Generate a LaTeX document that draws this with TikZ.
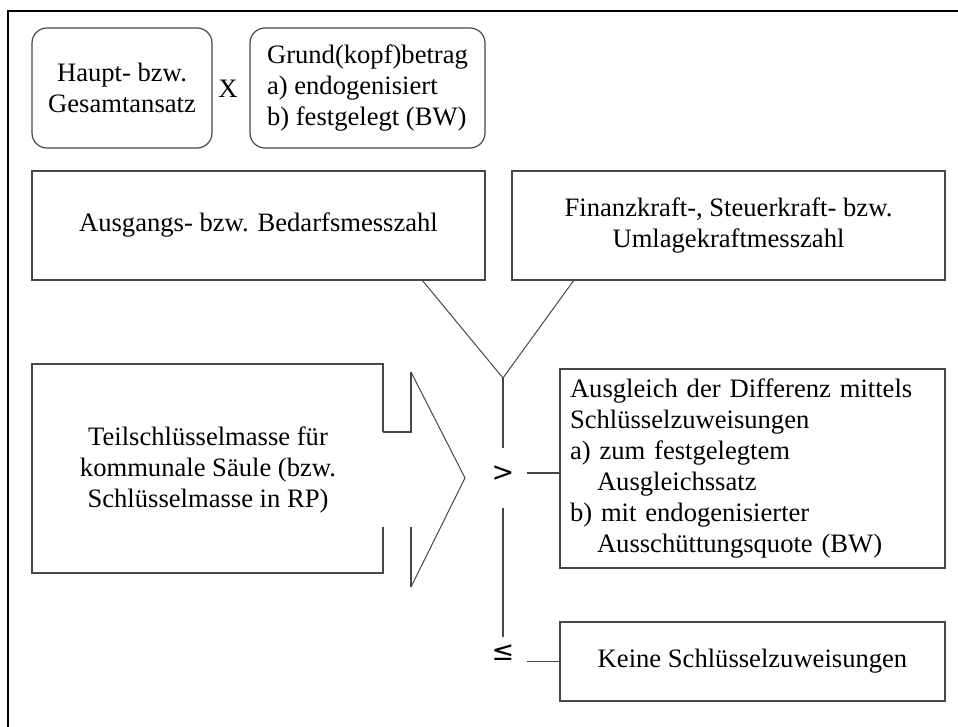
\documentclass[tikz,border=0pt]{standalone}
\usepackage{fontspec}
\setmainfont{Liberation Serif}
\newfontfamily\symfont{DejaVu Sans}
\begin{document}
\begin{tikzpicture}[x=1pt,y=-1pt,
  font=\fontsize{26.6}{31}\selectfont,
  ln/.style={draw=black!72, line width=1.2pt},
  rbox/.style={ln, rounded corners=15pt, inner sep=0pt},
  sbox/.style={ln, inner sep=0pt},
  txt/.style={inner sep=0pt, align=center},
  sym/.style={inner sep=0pt, font=\symfont\fontsize{27}{27}\selectfont}]
\useasboundingbox (0,0) rectangle (958,727);
% outer frame (right and bottom edges lie outside the picture)
\draw[line width=2.4pt] (8,727) -- (8,11) -- (958,11);

% top row
\node[rbox, minimum width=180pt, minimum height=120pt, align=center] (haupt) at (122,88) {Haupt- bzw.\\Gesamtansatz};
\node[txt] (mal) at (228,89) {X};
\node[rbox, minimum width=235pt, minimum height=120pt, align=left] (grund) at (367.5,88) {Grund(kopf)betrag\\a) endogenisiert\\b) festgelegt (BW)};

% second row
\node[sbox, minimum width=453pt, minimum height=109pt] (bedarf) at (258.5,225.5) {Ausgangs- bzw. Bedarfsmesszahl};
\node[sbox, minimum width=433pt, minimum height=109pt, align=center] (finanz) at (728.5,225.5) {Finanzkraft-, Steuerkraft- bzw.\\Umlagekraftmesszahl};

% V junction
\coordinate (join) at (503,378);
\coordinate (vL) at (422,280);
\coordinate (vR) at (574,280);
\draw[ln, line width=1pt] (vL) -- (join) -- (vR);

% Teilschluesselmasse with block arrow
\node[txt] (teil) at (208,470) {Teilschlüsselmasse für\\kommunale Säule (bzw.\\Schlüsselmasse in RP)};
\draw[ln] (383,432) -- (383,364) -- (32,364) -- (32,573) -- (383,573) -- (383,527);
\draw[ln] (383,432) -- (411,432) -- (411,372);
\draw[ln, line width=1pt] (411,372) -- (465,478) -- (411,587);
\draw[ln] (411,587) -- (411,527);

% comparison symbols
\node[sym] (gt) at (503,474) {>};
\node[sym] (le) at (503,653) {≤};
\coordinate (s1) at (503,448);
\coordinate (s2) at (503,508);
\coordinate (s3) at (503,637);
\draw[ln] (join) -- (s1);
\draw[ln] (s2) -- (s3);

% result boxes
\node[sbox, minimum width=385pt, minimum height=199pt, text width=365pt, inner xsep=10pt, align=left] (ausgl) at (752.5,468.5)
 {Ausgleich der Differenz mittels\\Schlüsselzuweisungen\\a) zum festgelegtem\\\hspace*{27pt}Ausgleichssatz\\b) mit endogenisierter\\\hspace*{27pt}Ausschüttungsquote (BW)};
\node[sbox, minimum width=385pt, minimum height=79pt] (keine) at (752.5,661.5) {Keine Schlüsselzuweisungen};

\coordinate (gtR) at (527,473);
\coordinate (leR) at (527,661.5);
\draw[ln] (gtR) -- (gtR -| ausgl.west);
\draw[ln] (leR) -- (keine.west);
\end{tikzpicture}
\end{document}
